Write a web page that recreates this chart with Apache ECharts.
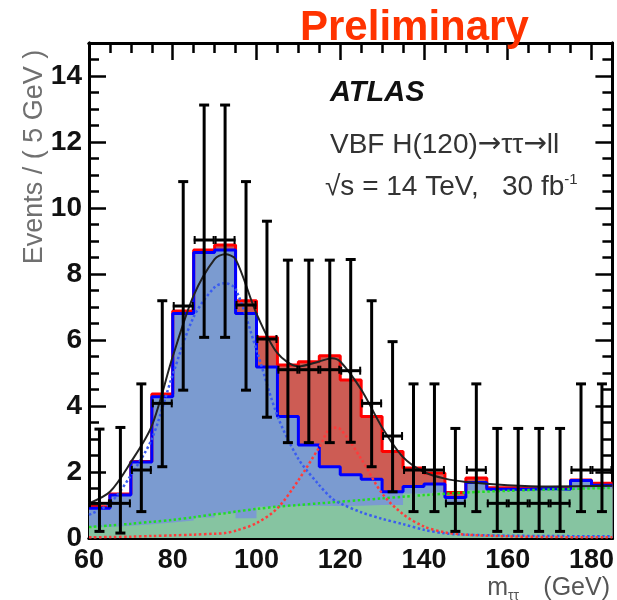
<!DOCTYPE html>
<html><head><meta charset="utf-8">
<script src="https://cdn.jsdelivr.net/npm/echarts@6/dist/echarts.min.js"></script>
<style>html,body{margin:0;padding:0;background:#fff}#c{width:617px;height:600px}</style>
</head><body><div id="c"></div>
<script>
// ---- data ----
const binLow = [60,65,70,75,80,85,90,95,100,105,110,115,120,125,130,135,140,145,150,155,160,165,170,175,180];
const binWidth = 5;
const bkgHist = [0.33,0.37,0.42,0.47,0.53,0.62,0.75,0.60,0.95,0.97,0.98,0.97,0.98,1.00,1.00,1.35,1.40,1.00,1.45,1.45,1.45,1.45,1.45,1.50,1.50];
const zttHist = [0.57,0.93,1.88,3.81,6.27,8.03,7.98,6.20,4.23,2.71,1.84,1.19,0.94,0.78,0.40,0.21,0.24,0.23,0.23,0.03,0.03,0.05,0.03,0.24,0.10];
const sigHist = [0.05,0.03,0.02,0.08,0.08,0.08,0.15,0.39,0.90,1.56,2.52,3.36,2.87,1.90,1.22,0.56,0.33,0.15,0.14,0.04,0.04,0.03,0.02,0.02,0.06];
const dataY    = [1.05,1.05,2.06,4.08,7.03,9.03,9.03,7.06,6.03,5.10,5.10,5.10,5.07,4.08,3.09,2.06,2.06,1.05,2.06,1.05,1.05,1.05,1.05,2.06,2.06];
const dataLow  = [0.20,0.15,0.80,2.16,4.48,6.08,6.08,4.48,3.66,2.89,2.89,2.89,2.90,2.16,1.40,0.80,0.80,0.20,0.80,0.20,0.20,0.20,0.20,0.80,0.80];
const dataHigh = [3.30,3.35,4.67,7.19,10.80,13.12,13.12,10.80,9.60,8.42,8.42,8.42,8.44,7.19,5.95,4.67,4.67,3.32,4.67,3.32,3.32,3.32,3.32,4.67,4.67];
const fitX     = [60,65,70,75,80,85,90,92.5,95,100,105,110,115,118,120,125,130,135,140,145,150,160,170,185];
const fitTotal = [1.05,1.40,2.30,3.40,5.50,7.35,8.45,8.60,8.45,6.80,5.60,5.20,5.35,5.45,5.35,4.50,3.35,2.45,2.00,1.80,1.70,1.60,1.56,1.58];
const fitZtt   = [0.70,1.05,1.90,3.00,4.95,6.70,7.60,7.72,7.55,5.70,3.70,2.40,1.60,1.20,1.05,0.78,0.58,0.42,0.25,0.14,0.10,0.07,0.06,0.05];
const fitSig   = [0.02,0.03,0.04,0.06,0.08,0.10,0.13,0.15,0.22,0.45,0.90,1.75,2.75,3.35,3.30,2.40,1.35,0.72,0.35,0.17,0.10,0.05,0.03,0.02];
const fitBkg   = [0.33,0.38,0.43,0.49,0.55,0.63,0.72,0.75,0.80,0.88,0.95,1.00,1.05,1.08,1.10,1.15,1.20,1.25,1.30,1.34,1.38,1.43,1.47,1.52];
const xTicksMajor = 20, xTicksMinor = 5, yTicksMajor = 2, yTicksMinor = 0.5;
const xMin = 60, xMax = 185, yMin = 0, yMax = 15;

// ---- build ----
const FONT = "'Liberation Sans', Arial, Helvetica, sans-serif";
const edges = binLow.concat([binLow[binLow.length-1] + binWidth]);
// cumulative stack tops (bkg, bkg+ztt, bkg+ztt+sig)
const topBkg = bkgHist.slice();
const topZtt = bkgHist.map((v,i)=>v + zttHist[i]);
const topSig = topZtt.map((v,i)=>v + sigHist[i]);
function stepData(vals){ return edges.map((e,i)=>[e, vals[Math.min(i, vals.length-1)]]); }
function curve(vals){ return fitX.map((x,i)=>[x, vals[i]]); }
const dataPts = binLow.map((b,i)=>[b + binWidth/2, dataY[i], dataLow[i], dataHigh[i], b, b + binWidth]);

function xAxisDef(pos, interval, len, labels){
  return {type:'value', min:xMin, max:xMax, interval:interval, position:pos,
    axisLine:{show:true, onZero:false, lineStyle:{color:'#000', width:3}},
    axisTick:{show:true, inside:true, length:len, lineStyle:{color:'#000', width:2.5}},
    axisLabel:{show:labels, fontSize:27, fontWeight:'bold', color:'#111', fontFamily:FONT, margin:9, showMaxLabel:false},
    splitLine:{show:false}};
}
function yAxisDef(pos, interval, len, labels){
  return {type:'value', min:yMin, max:yMax, interval:interval, position:pos,
    axisLine:{show:true, onZero:false, lineStyle:{color:'#000', width:3}},
    axisTick:{show:true, inside:true, length:len, lineStyle:{color:'#000', width:2.5}},
    axisLabel:{show:labels, fontSize:28, fontWeight:'bold', color:'#111', fontFamily:FONT, margin:7, showMaxLabel:false},
    splitLine:{show:false}};
}
function areaSeries(name, vals, color, z){
  return {type:'line', name:name, step:'end', data:stepData(vals), symbol:'none', z:z,
    lineStyle:{width:0, opacity:0}, areaStyle:{color:color, opacity:1, origin:'start'}};
}
function outlineSeries(name, vals, color, z){
  return {type:'line', name:name, step:'end', data:stepData(vals), symbol:'none', z:z,
    lineStyle:{width:3, color:color}};
}

const chart = echarts.init(document.getElementById('c'), null, {renderer:'canvas'});
chart.setOption({
  animation:false,
  backgroundColor:'#fff',
  grid:{left:89, right:2, top:43, bottom:62},
  xAxis:[xAxisDef('bottom', xTicksMajor, 17, true), xAxisDef('bottom', xTicksMinor, 10, false),
         xAxisDef('top', xTicksMajor, 17, false), xAxisDef('top', xTicksMinor, 10, false)],
  yAxis:[yAxisDef('left', yTicksMajor, 17, true), yAxisDef('left', yTicksMinor, 10, false),
         yAxisDef('right', yTicksMajor, 17, false), yAxisDef('right', yTicksMinor, 10, false)],
  series:[
    areaSeries('sigFill', topSig, '#cd5c54', 1),
    areaSeries('zttFill', topZtt, '#7b9bd0', 1.1),
    areaSeries('bkgFill', topBkg, '#86c4a1', 1.2),
    outlineSeries('sigLine', topSig, '#ff0000', 1.3),
    outlineSeries('zttLine', topZtt, '#0000ff', 1.4),
    {type:'line', name:'fitBkg', data:curve(fitBkg), smooth:0.3, symbol:'none', z:3,
     lineStyle:{width:2.5, type:'dotted', color:'#22dd22'}},
    {type:'line', name:'fitZtt', data:curve(fitZtt), smooth:0.3, symbol:'none', z:3,
     lineStyle:{width:2.5, type:'dotted', color:'#3a5cf0'}},
    {type:'line', name:'fitSig', data:curve(fitSig), smooth:0.3, symbol:'none', z:3,
     lineStyle:{width:2.5, type:'dotted', color:'#ff3a3a'}},
    {type:'line', name:'fitTotal', data:curve(fitTotal), smooth:0.3, symbol:'none', z:4,
     lineStyle:{width:2, color:'#222'}},
    {type:'custom', name:'data', z:5, data:dataPts, encode:{x:[0,4,5], y:[1,2,3]},
     renderItem:function(params, api){
       const x = api.value(0), y = api.value(1), lo = api.value(2), hi = api.value(3), e0 = api.value(4), e1 = api.value(5);
       const c = api.coord([x, y]), pl = api.coord([x, lo]), ph = api.coord([x, hi]);
       const a = api.coord([e0, y]), b = api.coord([e1, y]);
       const st = {stroke:'#000', lineWidth:3};
       const cap = 5, et = 4;
       return {type:'group', children:[
         {type:'line', shape:{x1:c[0], y1:pl[1], x2:c[0], y2:ph[1]}, style:st},
         {type:'line', shape:{x1:c[0]-cap, y1:ph[1], x2:c[0]+cap, y2:ph[1]}, style:st},
         {type:'line', shape:{x1:c[0]-cap, y1:pl[1], x2:c[0]+cap, y2:pl[1]}, style:st},
         {type:'line', shape:{x1:a[0], y1:c[1], x2:b[0], y2:c[1]}, style:st},
         {type:'line', shape:{x1:a[0]+1, y1:c[1]-et, x2:a[0]+1, y2:c[1]+et}, style:{stroke:'#000', lineWidth:2}},
         {type:'line', shape:{x1:b[0]-1, y1:c[1]-et, x2:b[0]-1, y2:c[1]+et}, style:{stroke:'#000', lineWidth:2}}
       ]};
     }}
  ],
  graphic:[
    {type:'text', x:300, y:28, z:100, style:{text:'Preliminary', fill:'#ff3300', font:"bold 42px "+FONT, align:'left', verticalAlign:'middle'}},
    {type:'text', x:330, y:93, z:100, style:{text:'ATLAS', fill:'#111', font:"italic bold 29px "+FONT, align:'left', verticalAlign:'middle'}},
    {type:'text', x:330, y:145, z:100, style:{text:'{t|VBF H(120)}{r|\u2192}{t|\u03c4\u03c4}{r|\u2192}{t|ll}', align:'left', verticalAlign:'middle',
      rich:{t:{fill:'#333', font:"28px "+FONT, lineHeight:32}, r:{fill:'#333', font:"28px 'DejaVu Sans'", lineHeight:32}}}},
    {type:'text', x:325, y:187, z:100, style:{text:'{a|\u221as = 14 TeV,   30 fb}{s|-1}', align:'left', verticalAlign:'middle',
      rich:{a:{fill:'#333', font:"28px "+FONT, lineHeight:30}, s:{fill:'#333', font:"15px "+FONT, verticalAlign:'top', lineHeight:30}}}},
    {type:'text', x:35, y:157, rotation:Math.PI/2, z:100, style:{text:'Events / ( 5 GeV )', fill:'#707070', font:"27px "+FONT, align:'center', verticalAlign:'middle'}},
    {type:'text', x:610, y:588, z:100, style:{text:'(GeV)', fill:'#555', font:"25px "+FONT, align:'right', verticalAlign:'middle'}},
    {type:'text', x:508, y:588, z:100, style:{text:'m', fill:'#555', font:"25px "+FONT, align:'right', verticalAlign:'middle'}},
    {type:'text', x:508, y:596, z:100, style:{text:'\u03c4\u03c4', fill:'#555', font:"14px "+FONT, align:'left', verticalAlign:'middle'}}
  ]
});
</script></body></html>
